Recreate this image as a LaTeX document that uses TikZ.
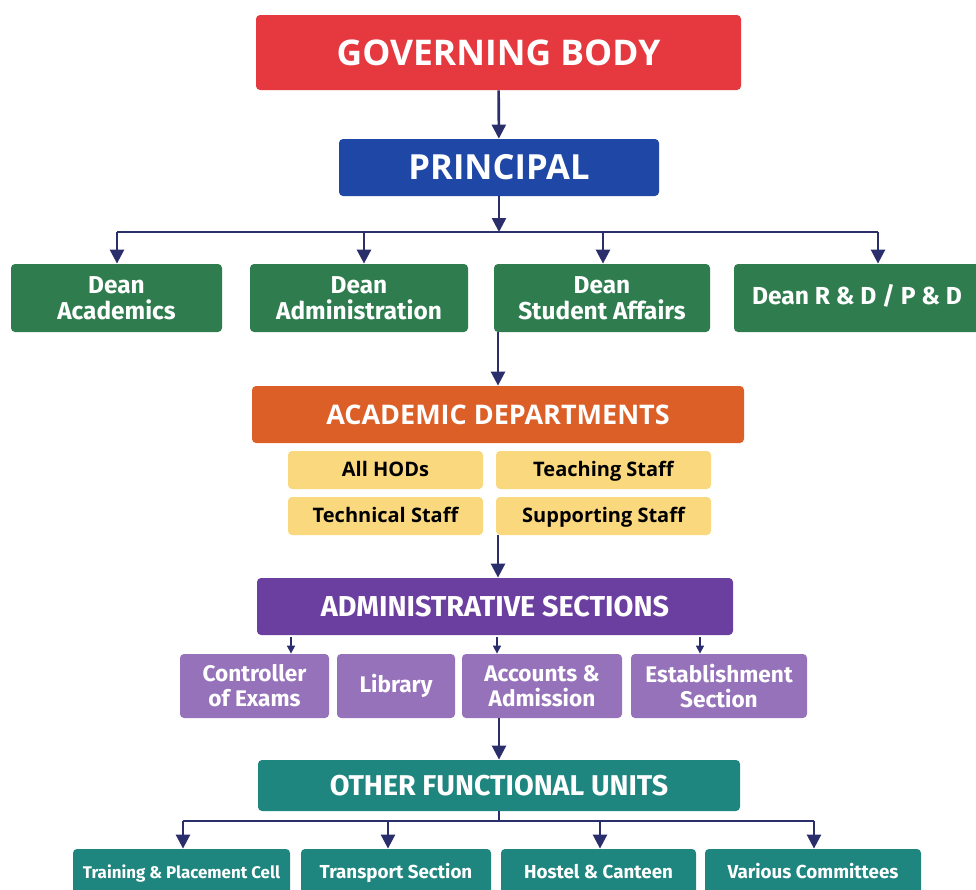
\documentclass[tikz,border=0pt]{standalone}
\usepackage{fontspec}
\setmainfont{Open Sans}
\newfontfamily\condfont{Fira Sans}
\usepackage{xcolor}
\usetikzlibrary{arrows.meta}

\definecolor{gbred}{HTML}{E5383F}
\definecolor{prblue}{HTML}{1F47A6}
\definecolor{deangreen}{HTML}{2F7D4F}
\definecolor{acorange}{HTML}{DD5F28}
\definecolor{staffyellow}{HTML}{FAD97E}
\definecolor{admpurple}{HTML}{6A3F9F}
\definecolor{secpurple}{HTML}{9572BA}
\definecolor{unitteal}{HTML}{1F857F}
\definecolor{linkblue}{HTML}{2A2F6B}

\tikzset{
  box/.style={rounded corners=2pt, text=white, align=center, inner sep=0pt},
  oneline/.style={text height=1.6ex, text depth=0.45ex},
  link/.style={draw=linkblue, line width=1.3pt, -{Triangle[length=7pt,width=7pt]}},
  smalllink/.style={draw=linkblue, line width=0.8pt, -{Triangle[length=4pt,width=4pt]}},
  bus/.style={draw=linkblue, line width=1.3pt},
}

\begin{document}
\begin{tikzpicture}[x=0.5pt,y=-0.5pt]
	\useasboundingbox (0,0) rectangle (976,890);
	
	% top
	\node[box,fill=gbred,minimum width=242.5pt,minimum height=37.5pt,font=\fontsize{17.7}{20}\selectfont\bfseries] (gb) at (498.5,52.5) {GOVERNING BODY};
	\node[box,fill=prblue,minimum width=160pt,minimum height=28.5pt,font=\fontsize{17.3}{20}\selectfont\bfseries] (pr) at (499,167.5) {PRINCIPAL};
	\draw[link] (gb) -- (pr);
	
	% deans
	\foreach \n/\x/\w/\t in
	{deana/116.5/105.5/{Dean\\Academics}, deanb/359/109/{Dean\\Administration}, deanc/602/108/{Dean\\Student Affairs}}{
		\node[box,fill=deangreen,minimum width=\w pt,minimum height=34pt,font=\condfont\fontsize{12.2}{12.8}\selectfont\bfseries] (\n) at (\x,298) {\t};
	}
	\node[box,oneline,fill=deangreen,minimum width=123pt,minimum height=34pt,font=\condfont\fontsize{12.3}{13}\selectfont\bfseries] (deand) at (857,298) {Dean R \& D / P \& D};
	
	\coordinate (pb) at (499,232);
	\foreach \i/\x in {1/117, 2/364, 3/603, 4/878}{
		\coordinate (b\i) at (\x,232);
	}
	\draw[link] (pr) -- (pb);
	\draw[bus] (b1) -- (b4);
	\foreach \i/\d in {1/deana, 2/deanb, 3/deanc, 4/deand}{
		\draw[link] (b\i) -- (\d.north -| b\i);
	}
	
	% academic departments
	\node[box,fill=acorange,minimum width=246pt,minimum height=28.5pt,font=\fontsize{13.5}{16}\selectfont\bfseries] (acd) at (498,414.5) {ACADEMIC DEPARTMENTS};
	\draw[link] (acd.north |- deanc.south) -- (acd.north);
	\foreach \n/\x/\y/\w/\t in
	{hod/385.5/470/97.5/All HODs, tch/603.5/470/107.5/Teaching Staff, tec/385.5/516/97.5/Technical Staff, sup/603.5/516/107.5/Supporting Staff}{
		\node[box,oneline,fill=staffyellow,text=black,minimum width=\w pt,minimum height=19pt,font=\fontsize{10}{12}\selectfont\bfseries] (\n) at (\x,\y) {\t};
	}
	
	% administrative sections
	\node[box,fill=admpurple,minimum width=238pt,minimum height=28.5pt,font=\condfont\fontsize{14.4}{17}\selectfont\bfseries] (adm) at (495,606.5) {ADMINISTRATIVE SECTIONS};
	\draw[link] (acd.south |- sup.south) -- (acd.south |- adm.north);
	\foreach \n/\x/\w/\t in
	{coe/254.5/74.5/{Controller\\of Exams}, lib/396/59/Library, acc/542/80/{Accounts \&\\Admission}, est/719/88/{Establishment\\Section}}{
		\node[box,fill=secpurple,minimum width=\w pt,minimum height=32pt,font=\condfont\fontsize{11.3}{12.5}\selectfont\bfseries] (\n) at (\x,686) {\t};
	}
	\foreach \i/\x/\d in {1/291/coe, 2/497/acc, 3/700/est}{
		\coordinate (s\i) at (\x,637);
		\draw[smalllink] (s\i) -- (\d.north -| s\i);
	}
	
	% other functional units
	\node[box,fill=unitteal,minimum width=241pt,minimum height=25.5pt,font=\condfont\fontsize{14.3}{17}\selectfont\bfseries] (ofu) at (499,785.5) {OTHER FUNCTIONAL UNITS};
	\draw[link] (ofu.north |- acc.south) -- (ofu.north);
	\node[box,oneline,fill=unitteal,minimum width=108.5pt,minimum height=23pt,font=\condfont\fontsize{8.45}{11}\selectfont\bfseries] (tpc) at (181.5,872) {Training \& Placement Cell};
	\foreach \n/\x/\w/\t in
	{trs/396/95/Transport Section, hcn/598.5/97.5/Hostel \& Canteen, vcm/813/108/Various Committees}{
		\node[box,oneline,fill=unitteal,minimum width=\w pt,minimum height=23pt,font=\condfont\fontsize{9.4}{11}\selectfont\bfseries] (\n) at (\x,872) {\t};
	}
	\coordinate (ub) at (499,821);
	\foreach \i/\x in {1/183, 2/388, 3/600, 4/814}{
		\coordinate (u\i) at (\x,821);
	}
	\draw[bus] (ofu) -- (ub);
	\draw[bus] (u1) -- (u4);
	\foreach \i/\d in {1/tpc, 2/trs, 3/hcn, 4/vcm}{
		\draw[link] (u\i) -- (\d.north -| u\i);
	}
\end{tikzpicture}
\end{document}
